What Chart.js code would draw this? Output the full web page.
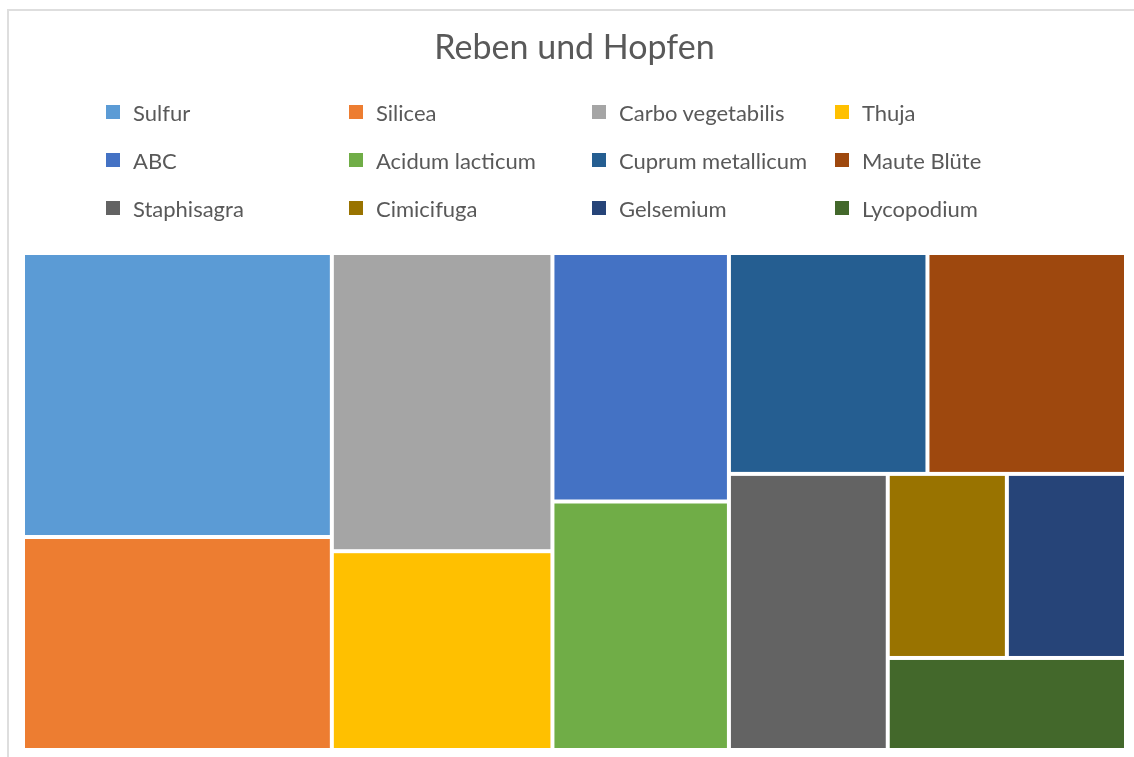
<!DOCTYPE html>
<html>
<head>
<meta charset="utf-8">
<script src="https://cdn.jsdelivr.net/npm/chart.js@4.4.0/dist/chart.umd.min.js"></script>
<style>
    html, body { margin: 0; padding: 0; background: #fff; overflow: hidden; }
    #wrap { position: relative; width: 1134px; height: 757px; overflow: hidden; }
    #frame { position: absolute; left: 7px; top: 9px; width: 1140px; height: 760px; border: 2px solid #dedede; box-sizing: border-box; }
    #treeChart { position: absolute; left: 0; top: 0; }
    #legend { position: absolute; left: 106px; top: 88px; display: grid; grid-template-columns: repeat(4, 243px); grid-auto-rows: 48px; font-family: Lato, sans-serif; font-size: 22px; color: #595959; }
    .legend-item { display: flex; align-items: center; white-space: nowrap; }
    .legend-box { width: 14px; height: 14px; margin-right: 13px; flex: none; }
</style>
</head>
<body>
<div id="wrap">
    <div id="frame"></div>
    <canvas id="treeChart" width="1134" height="757"></canvas>
    <div id="legend"></div>
</div>
<script>
// Data
const chartTitle = 'Reben und Hopfen';
const categories = ['Sulfur', 'Silicea', 'Carbo vegetabilis', 'Thuja', 'ABC', 'Acidum lacticum',
    'Cuprum metallicum', 'Maute Blüte', 'Staphisagra', 'Cimicifuga', 'Gelsemium', 'Lycopodium'];
const values = [4, 3, 3, 2, 2, 2, 2, 2, 2, 1, 1, 1];
const colors = ['#5B9BD5', '#ED7D31', '#A5A5A5', '#FFC000', '#4472C4', '#70AD47',
    '#255E91', '#9E480E', '#636363', '#997300', '#264478', '#43682B'];

// Squarified layout, in a box of size w x h (aspect matters, units don't)
function worstRatio(row, side, unit) {
    const area = row.reduce((s, it) => s + it.v, 0) * unit;
    const thick = area / side;
    let worst = 0;
    row.forEach(it => {
        const len = it.v * unit / thick;
        worst = Math.max(worst, len / thick, thick / len);
    });
    return worst;
}

function squarify(vals, w, h) {
    const out = [];
    let items = vals.map((v, i) => ({ v, i }));
    let x = 0, y = 0;
    const unit = w * h / vals.reduce((s, v) => s + v, 0);
    while (items.length) {
        const column = w >= h;
        const side = column ? h : w;
        let row = [items[0]];
        let best = worstRatio(row, side, unit);
        let k = 1;
        while (k < items.length) {
            const next = row.concat(items[k]);
            const r = worstRatio(next, side, unit);
            if (r > best) break;
            row = next; best = r; k++;
        }
        const thick = row.reduce((s, it) => s + it.v, 0) * unit / side;
        let off = 0;
        row.forEach(it => {
            const len = it.v * unit / thick;
            out[it.i] = column ? { x, y: y + off, w: thick, h: len } : { x: x + off, y, w: len, h: thick };
            off += len;
        });
        if (column) { x += thick; w -= thick; } else { y += thick; h -= thick; }
        items = items.slice(k);
    }
    return out;
}

// Draws the cells through the (hidden) x / y scales, both running 0..1
const treemapPlugin = {
    id: 'treemapCells',
    afterDatasetsDraw(chart) {
        const { ctx, chartArea, scales } = chart;
        const aspect = chartArea.width / chartArea.height;
        const cells = squarify(values, aspect, 1);
        const gap = 2;
        ctx.save();
        cells.forEach((c, i) => {
            const left = scales.x.getPixelForValue(c.x / aspect);
            const right = scales.x.getPixelForValue((c.x + c.w) / aspect);
            const top = scales.y.getPixelForValue(c.y);
            const bottom = scales.y.getPixelForValue(c.y + c.h);
            ctx.fillStyle = colors[i];
            ctx.fillRect(left + gap, top + gap, right - left - 2 * gap, bottom - top - 2 * gap);
        });
        ctx.restore();
    }
};

const ctx = document.getElementById('treeChart').getContext('2d');
const treeChart = new Chart(ctx, {
    type: 'scatter',
    data: {
        labels: categories,
        datasets: [{ label: chartTitle, data: [] }]
    },
    options: {
        responsive: false,
        animation: false,
        layout: { padding: { left: 23, right: 8, top: 28, bottom: 7 } },
        scales: {
            x: { display: false, min: 0, max: 1 },
            y: { display: false, min: 0, max: 1, reverse: true }
        },
        plugins: {
            legend: { display: false },
            tooltip: { enabled: false },
            title: {
                display: true,
                text: chartTitle,
                color: '#595959',
                font: { family: 'Lato', size: 34, weight: 'normal', lineHeight: 1.2 },
                padding: { top: 0, bottom: 184.2 }
            }
        }
    },
    plugins: [treemapPlugin]
});

// HTML legend, 4 fixed columns like the original
const legendEl = document.getElementById('legend');
legendEl.innerHTML = categories.map((name, i) => `
    <div class="legend-item"><span class="legend-box" style="background:${colors[i]}"></span>${name}</div>
`).join('');
</script>
</body>
</html>
